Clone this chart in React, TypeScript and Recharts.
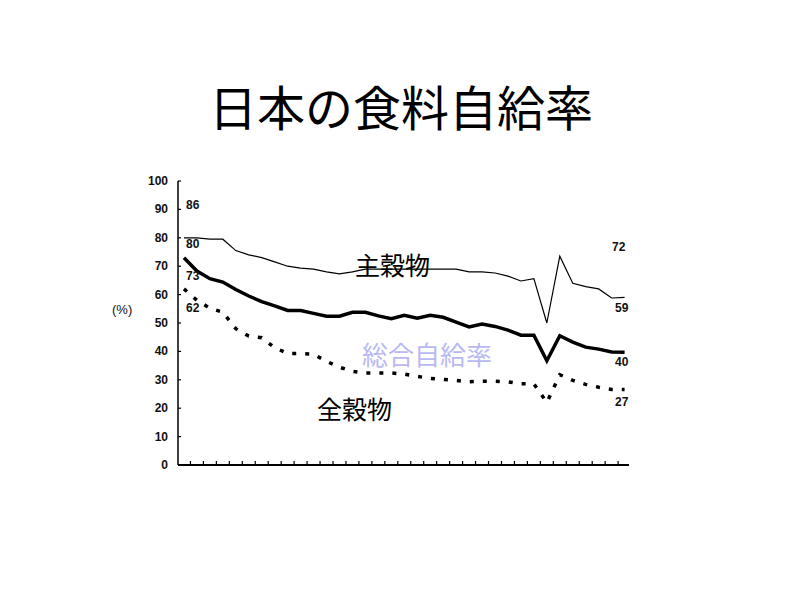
import React from "react";
import { LineChart, Line, XAxis, YAxis } from "recharts";

// 年度 (1965-1999)
const years = [
  1965, 1966, 1967, 1968, 1969, 1970, 1971, 1972, 1973, 1974, 1975, 1976,
  1977, 1978, 1979, 1980, 1981, 1982, 1983, 1984, 1985, 1986, 1987, 1988,
  1989, 1990, 1991, 1992, 1993, 1994, 1995, 1996, 1997, 1998, 1999,
];

// 主穀物
const shuKokumotsu = [
  80, 80, 79.5, 79.5, 75.5, 74, 73, 71.5, 70, 69.3, 69, 68, 67.3, 68, 69, 69,
  69, 69, 69, 69, 69, 69, 68, 68, 67.6, 66.5, 64.8, 65.6, 50, 73.5, 64, 62.8,
  62, 58.8, 59,
];

// 総合自給率
const sogo = [
  73, 68.3, 65.6, 64.4, 61.8, 59.5, 57.5, 56, 54.4, 54.4, 53.4, 52.4, 52.4,
  53.8, 53.8, 52.5, 51.5, 52.7, 51.7, 52.7, 52, 50.3, 48.6, 49.6, 48.8, 47.5,
  45.7, 45.7, 36.7, 45.5, 43.3, 41.5, 40.8, 39.8, 39.7,
];

// 全穀物
const zenKokumotsu = [
  62, 58, 55.2, 53.8, 48, 45.4, 44.8, 41.3, 39.3, 39.3, 39, 36.5, 34.4, 33,
  32.4, 32.4, 32.4, 32, 31.2, 30.5, 30.1, 29.8, 29.3, 29.5, 29.5, 29.3, 28.6,
  28.6, 22, 31.8, 29.8, 28.4, 27.4, 26.6, 26.6,
];

const yTicks = [0, 10, 20, 30, 40, 50, 60, 70, 80, 90, 100];
const xTicks = years.slice(0, -1).map((y) => y + 0.5);

const startLabels = [
  { text: "86", x: 186, y: 205 },
  { text: "80", x: 186, y: 244 },
  { text: "73", x: 186, y: 276 },
  { text: "62", x: 186, y: 308 },
];
const endLabels = [
  { text: "72", x: 612, y: 247 },
  { text: "59", x: 615, y: 308 },
  { text: "40", x: 615, y: 362 },
  { text: "27", x: 615, y: 402 },
];

const data = years.map((year, i) => ({
  year,
  shu: shuKokumotsu[i],
  sogo: sogo[i],
  zen: zenKokumotsu[i],
}));

const numFont = "'Liberation Sans', Arial, sans-serif";
const jpFont = "'Noto Sans CJK JP', sans-serif";

function YTick(props: any) {
  const { x, y, payload } = props;
  return (
    <g>
      <line x1={x} x2={x + 3} y1={y} y2={y} stroke="#000" strokeWidth={1.2} />
      <text
        x={x - 10}
        y={y}
        textAnchor="end"
        dominantBaseline="central"
        fontFamily={numFont}
        fontSize={12}
        fontWeight="bold"
        fill="#111"
      >
        {payload.value}
      </text>
    </g>
  );
}

function XTick(props: any) {
  const { x, y } = props;
  return <line x1={x} x2={x} y1={y} y2={y - 4} stroke="#000" strokeWidth={1.2} />;
}

export default function App() {
  return (
    <div style={{ position: "absolute", left: 0, top: 0, width: 800, height: 600, background: "#fff" }}>
      <LineChart
        width={800}
        height={600}
        data={data}
        margin={{ top: 181, right: 171, bottom: 125, left: 168 }}
      >
        <XAxis
          dataKey="year"
          type="number"
          domain={[1964.54, 1999.34]}
          ticks={xTicks}
          interval={0}
          height={10}
          tickSize={0}
          tickMargin={0}
          tickLine={false}
          tick={XTick}
          axisLine={{ stroke: "#000", strokeWidth: 2 }}
          allowDataOverflow
        />
        <YAxis
          type="number"
          domain={[0, 100]}
          ticks={yTicks}
          interval={0}
          width={10}
          tickSize={0}
          tickMargin={0}
          tickLine={false}
          tick={YTick}
          axisLine={{ stroke: "#000", strokeWidth: 1.5 }}
        />
        <Line
          type="linear"
          dataKey="shu"
          stroke="#000"
          strokeWidth={1.2}
          dot={false}
          isAnimationActive={false}
        />
        <Line
          type="linear"
          dataKey="sogo"
          stroke="#000"
          strokeWidth={3.5}
          dot={false}
          isAnimationActive={false}
        />
        <Line
          type="linear"
          dataKey="zen"
          stroke="#000"
          strokeWidth={3.5}
          strokeDasharray="4 9"
          dot={false}
          isAnimationActive={false}
        />
      </LineChart>
      <svg
        width={800}
        height={600}
        style={{ position: "absolute", left: 0, top: 0, pointerEvents: "none" }}
      >
        <text
          x={401}
          y={105}
          textAnchor="middle"
          dominantBaseline="central"
          fontFamily={jpFont}
          fontSize={48}
          fill="#000"
        >
          日本の食料自給率
        </text>
        <text x={355} y={264} dominantBaseline="central" fontFamily={jpFont} fontSize={25} fill="#000">
          主穀物
        </text>
        <text x={362} y={353} dominantBaseline="central" fontFamily={jpFont} fontSize={26} fill="#b9b9f2">
          総合自給率
        </text>
        <text x={317} y={408} dominantBaseline="central" fontFamily={jpFont} fontSize={25} fill="#000">
          全穀物
        </text>
        <text x={112} y={309} dominantBaseline="central" fontFamily={numFont} fontSize={13} fill="#111">
          (%)
        </text>
        {startLabels.concat(endLabels).map((l) => (
          <text
            key={l.text + l.y}
            x={l.x}
            y={l.y}
            dominantBaseline="central"
            fontFamily={numFont}
            fontSize={12}
            fontWeight="bold"
            fill="#111"
          >
            {l.text}
          </text>
        ))}
      </svg>
    </div>
  );
}
